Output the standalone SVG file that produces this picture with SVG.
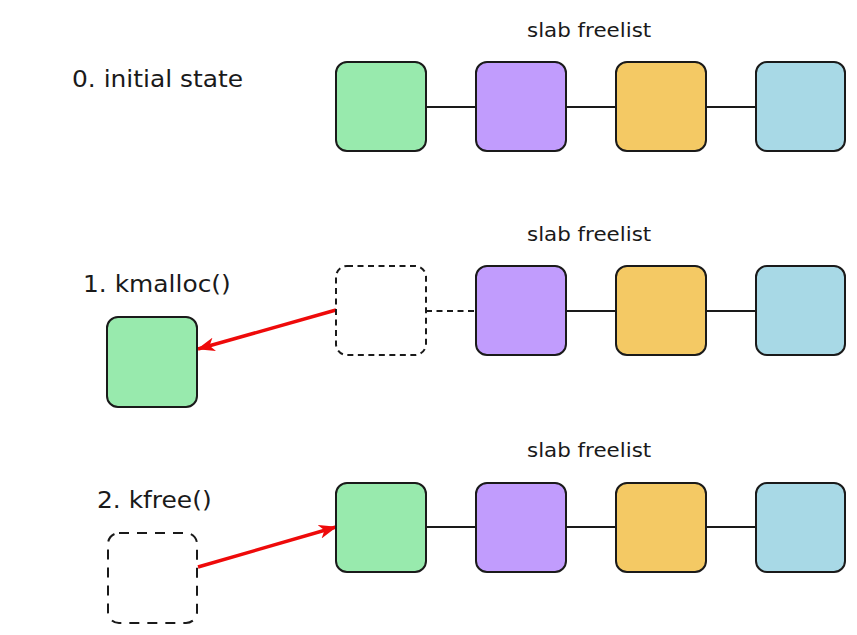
<svg xmlns="http://www.w3.org/2000/svg" width="857" height="635" viewBox="0 0 857 635">
  <style>
    .label { font-family: "DejaVu Sans", "Liberation Sans", sans-serif; font-size: 23.5px; fill: #1a1a1a; }
    .title { font-family: "DejaVu Sans", "Liberation Sans", sans-serif; font-size: 20px; fill: #1a1a1a; }
    .obj { stroke: #1a1a1a; stroke-width: 2; }
    .green { fill: #98eaad; }
    .purple { fill: #c19cfd; }
    .orange { fill: #f4c964; }
    .blue { fill: #a8d9e6; }
    .ghost { fill: none; stroke: #1a1a1a; stroke-width: 2; }
    .link { stroke: #1a1a1a; stroke-width: 2; fill: none; }
    .move { stroke: #ee0a0a; stroke-width: 3.4; fill: none; marker-end: url(#head); }
  </style>
  <defs>
    <marker id="head" viewBox="0 0 18 14" refX="17" refY="7" markerWidth="18" markerHeight="14" markerUnits="userSpaceOnUse" orient="auto">
      <path d="M0,0 L18,7 L0,14 L5,7 Z" fill="#ee0a0a"/>
    </marker>
  </defs>

  <rect width="857" height="635" fill="#ffffff"/>

  <!-- step labels (glyphs slightly widened) -->
  <text class="label" transform="translate(72 87) scale(1.06 1)">0. initial state</text>
  <text class="label" transform="translate(83 292) scale(1.06 1)">1. kmalloc()</text>
  <text class="label" transform="translate(97 508) scale(1.06 1)">2. kfree()</text>

  <text class="title" transform="translate(527 37) scale(1.07 1)">slab freelist</text>
  <text class="title" transform="translate(527 241) scale(1.07 1)">slab freelist</text>
  <text class="title" transform="translate(527 457) scale(1.07 1)">slab freelist</text>

  <!-- connectors -->
  <g id="connectors">
    <!-- row 0 links -->
    <line class="link" x1="426" y1="107" x2="476" y2="107"/>
    <line class="link" x1="566" y1="107" x2="616" y2="107"/>
    <line class="link" x1="706" y1="107" x2="756" y2="107"/>
    <!-- row 1 links -->
    <line class="link" x1="426" y1="311" x2="476" y2="311" stroke-dasharray="6,4.5"/>
    <line class="link" x1="566" y1="311" x2="616" y2="311"/>
    <line class="link" x1="706" y1="311" x2="756" y2="311"/>
    <!-- row 2 links -->
    <line class="link" x1="426" y1="527" x2="476" y2="527"/>
    <line class="link" x1="566" y1="527" x2="616" y2="527"/>
    <line class="link" x1="706" y1="527" x2="756" y2="527"/>
    <!-- allocation / free moves -->
    <line class="move" x1="336" y1="310" x2="198" y2="349"/>
    <line class="move" x1="198" y1="567" x2="336" y2="527"/>
  </g>

  <!-- row 0: initial state -->
  <g id="r0-obj0"><rect class="obj green" x="336" y="62" width="90" height="89" rx="11"/></g>
  <g id="r0-obj1"><rect class="obj purple" x="476" y="62" width="90" height="89" rx="11"/></g>
  <g id="r0-obj2"><rect class="obj orange" x="616" y="62" width="90" height="89" rx="11"/></g>
  <g id="r0-obj3"><rect class="obj blue" x="756" y="62" width="89" height="89" rx="11"/></g>

  <!-- row 1: kmalloc -->
  <g id="r1-slot"><rect class="ghost" x="336" y="266" width="90" height="89" rx="11" stroke-dasharray="6,4.5"/></g>
  <g id="r1-obj1"><rect class="obj purple" x="476" y="266" width="90" height="89" rx="11"/></g>
  <g id="r1-obj2"><rect class="obj orange" x="616" y="266" width="90" height="89" rx="11"/></g>
  <g id="r1-obj3"><rect class="obj blue" x="756" y="266" width="89" height="89" rx="11"/></g>
  <g id="r1-allocated"><rect class="obj green" x="107" y="317" width="90" height="90" rx="11"/></g>

  <!-- row 2: kfree -->
  <g id="r2-freed"><rect class="ghost" x="108" y="533" width="89" height="90" rx="11" stroke-dasharray="10,8"/></g>
  <g id="r2-obj0"><rect class="obj green" x="336" y="483" width="90" height="89" rx="11"/></g>
  <g id="r2-obj1"><rect class="obj purple" x="476" y="483" width="90" height="89" rx="11"/></g>
  <g id="r2-obj2"><rect class="obj orange" x="616" y="483" width="90" height="89" rx="11"/></g>
  <g id="r2-obj3"><rect class="obj blue" x="756" y="483" width="89" height="89" rx="11"/></g>
</svg>
